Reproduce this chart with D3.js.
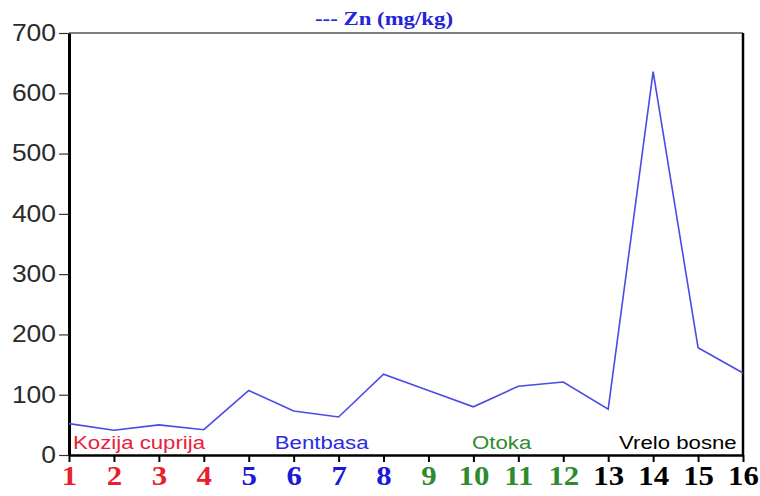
<!DOCTYPE html>
<html>
<head>
<meta charset="utf-8">
<script src="https://cdn.jsdelivr.net/npm/d3@7"></script>
<style>
  body { margin: 0; background: #fff; }
</style>
</head>
<body>
<div class="chart"></div>
<script>
// sampling sites 1..16, Zn concentration
const sites = d3.range(1, 17);
const zn = [52, 41, 50, 42, 107, 73, 63, 134, 107, 80, 114, 121, 76, 636, 178, 136];
const yTicks = [0, 100, 200, 300, 400, 500, 600, 700];
const groupNames = ["Kozija cuprija", "Bentbasa", "Otoka", "Vrelo bosne"];
const groupColors = ["#e8203a", "#2a2ae0", "#2e8b2e", "#000000"];
const tickColors = ["#e8202a", "#1a1ad8", "#2e8b2e", "#000000"];

let margin = { top: 33, right: 17, left: 69, bottom: 41 };
let width = 760 - margin.left - margin.right;
let height = 496 - margin.top - margin.bottom;
let stretch = 1.2; // the original text looks a bit wide

let svg = d3.select('.chart')
  .append('svg')
    .attr('width', 760)
    .attr('height', 496)
  .append('g')
    .attr('transform', `translate(${margin.left}, ${margin.top})`);

let xScale = d3.scaleLinear().domain([1, 16]).range([0, width]);
let yScale = d3.scaleLinear().domain([0, 700]).range([height, 0]);

// title
svg.append('text')
  .attr('transform', `translate(${width / 2 - 22}, -8) scale(${stretch}, 1)`)
  .attr('text-anchor', 'middle')
  .style('font-family', '"Liberation Serif", serif')
  .style('font-weight', 'bold')
  .style('font-size', '19px')
  .style('fill', '#2424d8')
  .text('--- Zn (mg/kg)');

// frame: top grey, right black
svg.append('line')
  .attr('x1', 0).attr('x2', width).attr('y1', 0).attr('y2', 0)
  .style('stroke', '#555').style('stroke-width', 1.5);
svg.append('line')
  .attr('x1', width).attr('x2', width).attr('y1', 0).attr('y2', height)
  .style('stroke', '#000').style('stroke-width', 2.5);

// y axis
let yAxis = d3.axisLeft(yScale).tickValues(yTicks).tickSize(10).tickSizeOuter(0);
let gy = svg.append('g').call(yAxis);
gy.select('.domain').style('stroke', '#000').style('stroke-width', 3);
gy.selectAll('.tick line').style('stroke', '#333').style('stroke-width', 1.2);
gy.selectAll('text')
  .attr('x', 0)
  .attr('transform', `translate(-13, 0) scale(1.15, 1)`)
  .style('font-family', '"Liberation Sans", Arial, sans-serif')
  .style('font-size', '23px')
  .style('fill', '#2a2a2a');

// x axis
let xAxis = d3.axisBottom(xScale).tickValues(sites).tickSize(7).tickPadding(3).tickSizeOuter(0);
let gx = svg.append('g')
  .attr('transform', `translate(0, ${height})`)
  .call(xAxis);
gx.select('.domain').style('stroke', '#000').style('stroke-width', 2.5);
gx.selectAll('.tick line').style('stroke', '#000').style('stroke-width', 2);
gx.selectAll('text')
  .attr('transform', `scale(1.1, 1)`)
  .style('font-family', '"Liberation Serif", serif')
  .style('font-weight', 'bold')
  .style('font-size', '28px')
  .style('fill', d => tickColors[Math.floor((d - 1) / 4)]);

// group labels inside the plot (start positions in site units, last one right-aligned)
let labelPos = [1.09, 5.58, 9.97, 15.86];
svg.selectAll('.grp')
  .data(groupNames)
  .enter()
  .append('text')
    .attr('class', 'grp')
    .attr('transform', (d, i) => `translate(${xScale(labelPos[i])}, ${height - 6}) scale(${stretch}, 1)`)
    .attr('text-anchor', (d, i) => i === 3 ? 'end' : 'start')
    .style('font-family', '"Liberation Sans", Arial, sans-serif')
    .style('font-size', '18.5px')
    .style('fill', (d, i) => groupColors[i])
    .text(d => d);

// line
let line = d3.line()
  .x((d, i) => xScale(sites[i]))
  .y(d => yScale(d));

svg.append('path')
  .datum(zn)
  .attr('d', line)
  .style('fill', 'none')
  .style('stroke', '#4a4ae6')
  .style('stroke-width', 1.6);
</script>
</body>
</html>
